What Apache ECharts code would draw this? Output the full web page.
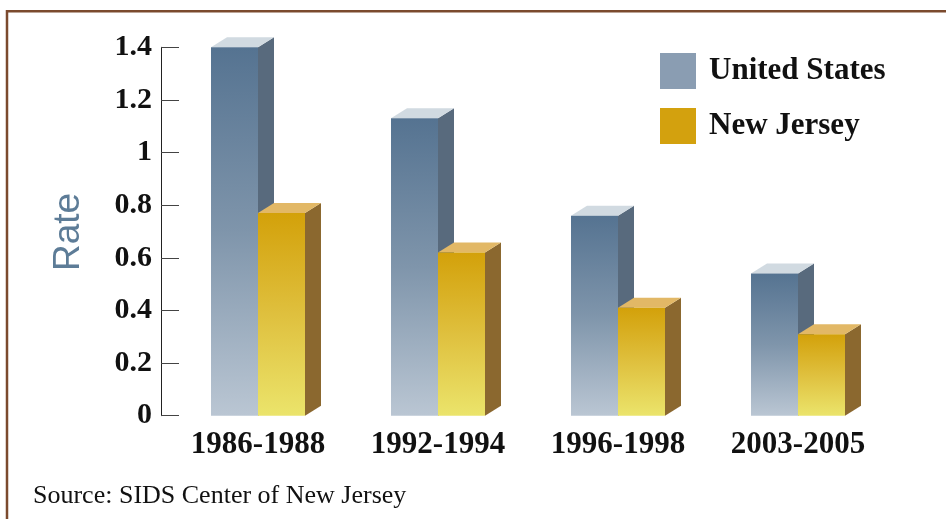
<!DOCTYPE html>
<html>
<head>
<meta charset="utf-8">
<script src="https://cdn.jsdelivr.net/npm/echarts@6/dist/echarts.min.js"></script>
<style>
html,body{margin:0;padding:0;background:#fff;}
#chart{width:946px;height:519px;}
</style>
</head>
<body>
<div id="chart"></div>
<script>
const categories = ['1986-1988', '1992-1994', '1996-1998', '2003-2005'];
const usValues = [1.40, 1.13, 0.76, 0.54];
const njValues = [0.77, 0.62, 0.41, 0.31];
const seriesNames = ['United States', 'New Jersey'];
const yAxisName = 'Rate';
const sourceText = 'Source: SIDS Center of New Jersey';

const chart = echarts.init(document.getElementById('chart'), null, {renderer: 'canvas'});

const styles = [
  {
    front: new echarts.graphic.LinearGradient(0, 0, 0, 1, [
      {offset: 0, color: '#557391'},
      {offset: 0.5, color: '#7f95ab'},
      {offset: 1, color: '#bac6d3'}
    ]),
    side: '#586a7d',
    top: '#d1dae1',
    legend: '#8a9db2'
  },
  {
    front: new echarts.graphic.LinearGradient(0, 0, 0, 1, [
      {offset: 0, color: '#d3a10a'},
      {offset: 0.5, color: '#dfc03e'},
      {offset: 1, color: '#ebe46b'}
    ]),
    side: '#8b682f',
    top: '#e2b866',
    legend: '#d3a10e'
  }
];

function renderBar(params, api) {
  const idx = api.value(0);
  const v = api.value(1);
  const base = api.coord([idx, 0]);
  const top = api.coord([idx, v]);
  const s = styles[params.seriesIndex];
  const w = 47, dx = 16, dy = 10;
  const x0 = params.seriesIndex === 0 ? base[0] - w : base[0];
  const x1 = x0 + w;
  const yT = top[1], yB = base[1];
  return {
    type: 'group',
    children: [
      {type: 'polygon', shape: {points: [[x1, yT], [x1 + dx, yT - dy], [x1 + dx, yB - dy], [x1, yB]]}, style: {fill: s.side}},
      {type: 'polygon', shape: {points: [[x0, yT], [x0 + dx, yT - dy], [x1 + dx, yT - dy], [x1, yT]]}, style: {fill: s.top}},
      {type: 'rect', shape: {x: x0, y: yT, width: w, height: yB - yT}, style: {fill: s.front}}
    ]
  };
}

const option = {
  animation: false,
  backgroundColor: '#ffffff',
  grid: {left: 168, right: 58, top: 47.3, bottom: 103.3, containLabel: false},
  legend: {
    orient: 'vertical',
    left: 660,
    top: 53,
    itemWidth: 36,
    itemHeight: 36,
    itemGap: 19,
    padding: 0,
    textStyle: {fontFamily: 'Liberation Serif', fontWeight: 'bold', fontSize: 31, color: '#111', padding: [0, 0, 0, 8]},
    data: [
      {name: seriesNames[0], icon: 'rect', itemStyle: {color: styles[0].legend}},
      {name: seriesNames[1], icon: 'rect', itemStyle: {color: styles[1].legend}}
    ]
  },
  xAxis: {
    type: 'category',
    data: categories,
    axisLine: {show: false},
    axisTick: {show: false},
    axisLabel: {fontFamily: 'Liberation Serif', fontWeight: 'bold', fontSize: 31, color: '#111', margin: 14}
  },
  yAxis: {
    type: 'value',
    min: 0,
    max: 1.4,
    interval: 0.2,
    offset: 7,
    splitLine: {show: false},
    axisLine: {show: true, lineStyle: {color: '#222', width: 1}},
    axisTick: {show: true, inside: true, length: 18, lineStyle: {color: '#444', width: 1}},
    axisLabel: {fontFamily: 'Liberation Serif', fontWeight: 'bold', fontSize: 30, color: '#111', margin: 9}
  },
  graphic: [
    {type: 'rect', shape: {x: 7, y: 11.3, width: 1000, height: 600}, style: {fill: 'none', stroke: '#7b4a2e', lineWidth: 2.5}, z: 100},
    {type: 'text', x: 69, y: 232, rotation: Math.PI / 2, style: {text: yAxisName, fontFamily: 'Liberation Sans', fontSize: 37, fill: '#5d7c97', align: 'center', verticalAlign: 'middle'}},
    {type: 'text', x: 33, y: 496, style: {text: sourceText, fontFamily: 'Liberation Serif', fontSize: 26, fill: '#111', align: 'left', verticalAlign: 'middle'}}
  ],
  series: [
    {name: seriesNames[0], type: 'custom', renderItem: renderBar, itemStyle: {color: styles[0].legend}, encode: {x: 0, y: 1},
      data: usValues.map((v, i) => [i, v])},
    {name: seriesNames[1], type: 'custom', renderItem: renderBar, itemStyle: {color: styles[1].legend}, encode: {x: 0, y: 1},
      data: njValues.map((v, i) => [i, v])}
  ]
};
chart.setOption(option);
</script>
</body>
</html>
